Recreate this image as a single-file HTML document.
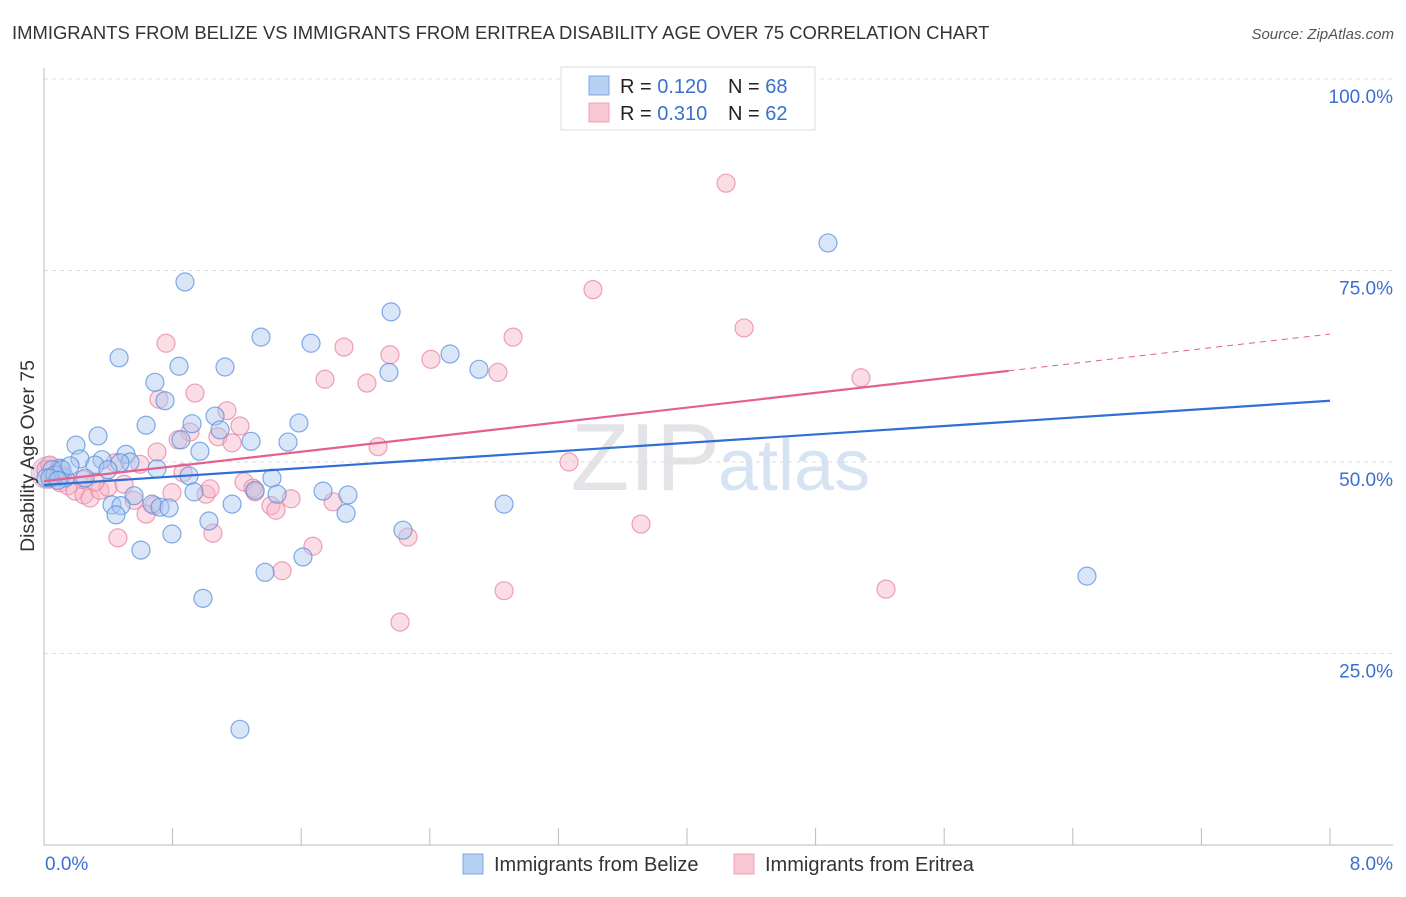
<!DOCTYPE html>
<html><head><meta charset="utf-8"><style>
body{margin:0;background:#fff;font-family:"Liberation Sans",sans-serif;}
svg text{font-family:"Liberation Sans",sans-serif;}
</style></head><body>
<svg id="chart" width="1406" height="892" xmlns="http://www.w3.org/2000/svg">
<text x="12" y="39" font-size="18.45" fill="#333">IMMIGRANTS FROM BELIZE VS IMMIGRANTS FROM ERITREA DISABILITY AGE OVER 75 CORRELATION CHART</text>
<text x="1394" y="39" font-size="15" fill="#555" font-style="italic" text-anchor="end">Source: ZipAtlas.com</text>
<text x="720" y="490" font-size="96" fill="#e4e4e8" text-anchor="end" font-family="Liberation Serif">ZIP</text>
<text x="718" y="490" font-size="72" fill="#d6e3f3">atlas</text>
<g id="grid"></g>
<g id="marks"></g>
<text transform="translate(34,456) rotate(-90)" font-size="19.5" fill="#333" text-anchor="middle">Disability Age Over 75</text>
<text x="45" y="870" font-size="19" fill="#3b6fd0">0.0%</text>
<text x="1393" y="870" font-size="19" fill="#3b6fd0" text-anchor="end">8.0%</text>
<g>
<rect x="561" y="67" width="254" height="63" fill="#fff" stroke="#ddd"/>
<rect x="589" y="76" width="20" height="19" fill="#b7d1f5" stroke="#7fa8e0"/>
<rect x="589" y="103" width="20" height="19" fill="#f9c6d4" stroke="#eea0b8"/>
<text x="620" y="93" font-size="20" fill="#222">R = <tspan fill="#3b6fd0">0.120</tspan></text>
<text x="728" y="93" font-size="20" fill="#222">N = <tspan fill="#3b6fd0">68</tspan></text>
<text x="620" y="120" font-size="20" fill="#222">R = <tspan fill="#3b6fd0">0.310</tspan></text>
<text x="728" y="120" font-size="20" fill="#222">N = <tspan fill="#3b6fd0">62</tspan></text>
</g>
<g>
<rect x="463" y="854" width="20" height="20" fill="#b7d1f5" stroke="#7fa8e0"/>
<text x="494" y="871" font-size="20" fill="#333">Immigrants from Belize</text>
<rect x="734" y="854" width="20" height="20" fill="#f9c6d4" stroke="#eea0b8"/>
<text x="765" y="871" font-size="20" fill="#333">Immigrants from Eritrea</text>
</g>
</svg>
<script>
const belizeX=[0.877,4.877,2.159,1.350,1.661,0.467,0.840,1.126,2.526,2.706,2.146,0.690,0.753,0.635,1.064,1.586,0.921,1.095,0.336,0.852,0.199,1.288,1.518,0.970,0.510,0.224,0.361,0.535,0.317,0.473,0.703,0.398,0.100,0.050,0.131,0.255,0.902,1.418,0.012,0.068,0.933,1.313,1.736,1.450,1.891,0.560,0.423,0.479,0.672,0.722,0.778,1.170,2.862,0.448,1.026,1.879,2.233,0.796,0.603,1.611,1.375,6.488,0.989,1.219,0.112,0.162,0.037,0.087];
const belizeY=[73.5,78.6,69.6,66.3,65.5,63.6,62.5,62.4,64.1,62.1,61.7,60.4,58.0,54.8,56.0,55.1,55.0,54.2,53.4,52.9,52.2,52.7,52.6,51.4,51.0,50.4,50.3,50.0,49.6,49.9,49.1,49.0,49.2,49.0,47.9,47.9,48.2,47.9,47.9,48.3,46.1,46.3,46.2,45.8,45.7,45.6,44.4,44.3,44.5,44.1,44.0,44.5,44.5,43.1,42.3,43.3,41.1,40.6,38.5,37.6,35.6,35.1,32.2,15.1,49.0,49.5,47.9,47.6];
const eritreaX=[4.243,3.415,4.355,2.918,0.759,1.866,2.152,2.407,2.824,1.748,2.009,5.082,0.939,0.715,1.138,1.219,0.908,0.834,1.082,1.170,0.703,2.078,0.597,0.442,3.266,0.865,0.012,0.062,0.100,0.149,0.193,0.249,0.286,0.348,0.398,0.498,0.560,0.796,1.008,1.033,1.244,1.300,1.412,1.443,1.537,1.798,0.684,0.635,1.051,0.460,2.264,1.673,3.714,1.481,2.862,5.238,2.215,0.112,0.037,0.317,0.243,1.313];
const eritreaY=[86.4,72.5,67.5,66.3,65.5,65.0,64.0,63.4,61.7,60.8,60.3,61.0,59.0,58.2,56.7,54.7,53.9,52.9,53.3,52.5,51.3,52.0,49.7,49.9,50.0,48.6,49.0,47.9,47.3,46.9,46.2,45.7,45.3,46.3,46.7,47.1,45.0,46.0,45.8,46.5,47.4,46.6,44.3,43.7,45.2,44.8,44.3,43.2,40.7,40.1,40.2,39.0,41.9,35.8,33.2,33.4,29.1,48.3,49.6,47.4,47.7,46.1];
const trendBelize=[47.0,58.0];
const trendEritrea=[47.5,66.7];
const eritreaSolidEnd=6.0;
const yTicks=[100,75,50,25];
const xTicks=[0,0.8,1.6,2.4,3.2,4.0,4.8,5.6,6.4,7.2,8.0];

const NS="http://www.w3.org/2000/svg";
const sx=v=>44+v/8*1286;
const sy=v=>845-v/100*766;
const grid=document.getElementById('grid');
const marks=document.getElementById('marks');
function mk(tag,attrs,parent){const e=document.createElementNS(NS,tag);for(const k in attrs)e.setAttribute(k,attrs[k]);parent.appendChild(e);return e;}

yTicks.forEach(t=>{
  const l=mk('line',{x1:44,x2:1393,y1:sy(t),y2:sy(t),stroke:'#dedede','stroke-dasharray':'4,4'},grid);
  
  
  const tx=mk('text',{x:1393,y:sy(t)+24,'font-size':19,fill:'#3b6fd0','text-anchor':'end'},grid);
  tx.textContent=t.toFixed(1)+'%';
  
  
});
const ya=mk('line',{x1:44,x2:44,y1:68,y2:845,stroke:'#bbb'},grid);


const xa=mk('line',{x1:44,x2:1393,y1:845,y2:845,stroke:'#bbb'},grid);


xTicks.forEach(t=>{
  const l=mk('line',{x1:sx(t),x2:sx(t),y1:828,y2:845,stroke:'#bbb'},grid);
  
  
});

function points(xs,ys,fill,stroke,name){
  xs.forEach((x,i)=>{
    const c=mk('circle',{cx:sx(x),cy:sy(ys[i]),r:9,fill:fill,'fill-opacity':0.45,stroke:stroke,'stroke-width':1.2,'stroke-opacity':0.75},marks);
    
    
  });
}
const big=mk('circle',{cx:sx(0.02),cy:sy(48.6),r:16,fill:'#c9a6c8','fill-opacity':0.45,stroke:'#e8a0b8','stroke-opacity':0.7},marks);


points(eritreaX,eritreaY,'#f6b3c6','#e883a3','point-eritrea');
points(belizeX,belizeY,'#a9c7f0','#5b8fdc','point-belize');

const lb=mk('line',{x1:sx(0),y1:sy(trendBelize[0]),x2:sx(8),y2:sy(trendBelize[1]),stroke:'#2f6fd6','stroke-width':2.2},marks);


const ye=trendEritrea[0]+(trendEritrea[1]-trendEritrea[0])*eritreaSolidEnd/8;
const le=mk('line',{x1:sx(0),y1:sy(trendEritrea[0]),x2:sx(eritreaSolidEnd),y2:sy(ye),stroke:'#e4608e','stroke-width':2.2},marks);


const ld=mk('line',{x1:sx(eritreaSolidEnd),y1:sy(ye),x2:sx(8),y2:sy(trendEritrea[1]),stroke:'#e4608e','stroke-width':1,'stroke-dasharray':'6,5'},marks);


</script>
</body></html>
